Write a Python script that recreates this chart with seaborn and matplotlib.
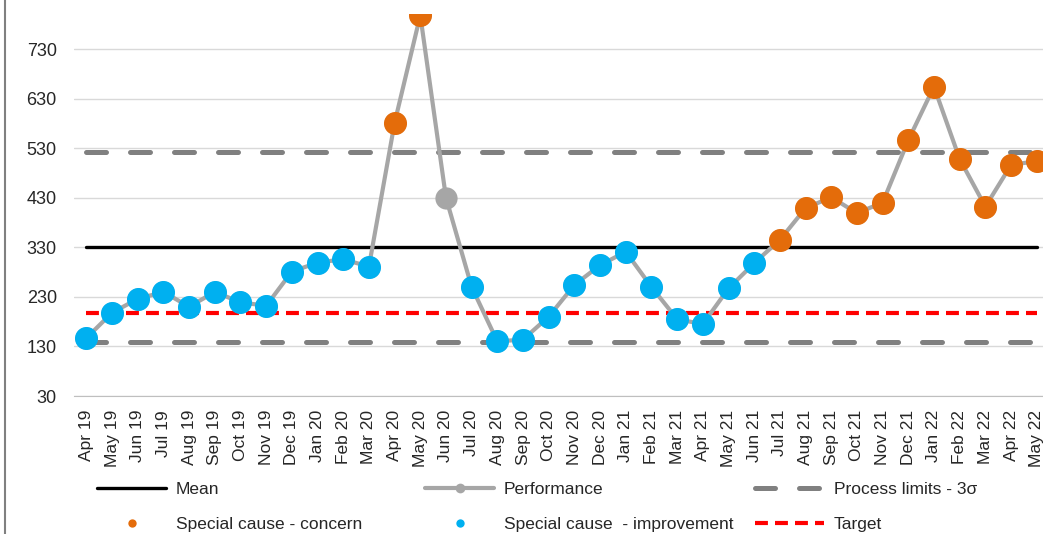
import matplotlib
matplotlib.use('Agg')
import matplotlib.pyplot as plt
from matplotlib.lines import Line2D
import numpy as np
import pandas as pd
import seaborn as sns

sns.set_style('white')
plt.rcParams['font.family'] = ['Liberation Sans', 'DejaVu Sans']
plt.rcParams['font.size'] = 12

# data
months = ['Apr 19', 'May 19', 'Jun 19', 'Jul 19', 'Aug 19', 'Sep 19', 'Oct 19', 'Nov 19',
          'Dec 19', 'Jan 20', 'Feb 20', 'Mar 20', 'Apr 20', 'May 20', 'Jun 20', 'Jul 20',
          'Aug 20', 'Sep 20', 'Oct 20', 'Nov 20', 'Dec 20', 'Jan 21', 'Feb 21', 'Mar 21',
          'Apr 21', 'May 21', 'Jun 21', 'Jul 21', 'Aug 21', 'Sep 21', 'Oct 21', 'Nov 21',
          'Dec 21', 'Jan 22', 'Feb 22', 'Mar 22', 'Apr 22', 'May 22']
performance = [147, 198, 226, 240, 210, 240, 219, 212,
               281, 299, 306, 291, 581, 798, 430, 250,
               140, 144, 190, 254, 294, 321, 250, 185,
               175, 247, 298, 345, 409, 431, 399, 420,
               546, 654, 508, 412, 496, 504]
mean_value = 331
upper_limit = 522
lower_limit = 139
target_value = 198
concern_months = ['Apr 20', 'May 20', 'Jul 21', 'Aug 21', 'Sep 21', 'Oct 21', 'Nov 21',
                  'Dec 21', 'Jan 22', 'Feb 22', 'Mar 22', 'Apr 22', 'May 22']
improvement_months = ['Apr 19', 'May 19', 'Jun 19', 'Jul 19', 'Aug 19', 'Sep 19', 'Oct 19',
                      'Nov 19', 'Dec 19', 'Jan 20', 'Feb 20', 'Mar 20', 'Jul 20', 'Aug 20',
                      'Sep 20', 'Oct 20', 'Nov 20', 'Dec 20', 'Jan 21', 'Feb 21', 'Mar 21',
                      'Apr 21', 'May 21', 'Jun 21']
y_ticks = [30, 130, 230, 330, 430, 530, 630, 730]

# colours
orange = '#E46C0A'
blue = '#00B0F0'
line_grey = '#A6A6A6'
limit_grey = '#808080'
red = '#FF0000'

df = pd.DataFrame({'month': months, 'value': performance})
df['pos'] = np.arange(len(df))
n = len(df)

fig = plt.figure(figsize=(10.43, 5.34), dpi=100)
ax = fig.add_axes([0.0705, 0.2584, 0.9358, 0.7148])

# reference lines
ax.plot(df['pos'], np.full(n, mean_value), color='black', lw=2.4, zorder=2)
ax.plot(df['pos'], np.full(n, upper_limit), color=limit_grey, lw=3.6,
        dashes=(4, 4.8), dash_capstyle='round', zorder=2)
ax.plot(df['pos'], np.full(n, lower_limit), color=limit_grey, lw=3.6,
        dashes=(4, 4.8), dash_capstyle='round', zorder=2)
ax.plot(df['pos'], np.full(n, target_value), color=red, lw=3,
        dashes=(3.1, 1.7), zorder=2)

# performance line
sns.lineplot(data=df, x='pos', y='value', ax=ax, color=line_grey, lw=3,
             marker='o', markersize=16, markeredgewidth=0, zorder=3)

# special cause points
sns.scatterplot(data=df[df['month'].isin(concern_months)], x='pos', y='value', ax=ax,
                color=orange, s=275, linewidth=0, zorder=4)
sns.scatterplot(data=df[df['month'].isin(improvement_months)], x='pos', y='value', ax=ax,
                color=blue, s=275, linewidth=0, zorder=4)

ax.set_xlim(-0.5, n - 0.5)
ax.set_ylim(30, 800)
ax.set_yticks(y_ticks)
ax.set_xticks(df['pos'])
ax.set_xticklabels(months, rotation=90, fontsize=12.5, color='#262626')
ax.tick_params(axis='y', length=0, pad=12, labelsize=13, labelcolor='#262626')
ax.tick_params(axis='x', length=0, pad=10)
ax.set_xlabel('')
ax.set_ylabel('')
ax.grid(axis='y', color='#D9D9D9', lw=1)
ax.set_axisbelow(True)
for side in ['top', 'right', 'left']:
    ax.spines[side].set_visible(False)
ax.spines['bottom'].set_color('#BFBFBF')

# legend, three columns placed separately
h_mean = Line2D([], [], color='black', lw=2.4)
h_perf = Line2D([], [], color=line_grey, lw=3, marker='o', markersize=7, markeredgewidth=0)
h_limit = Line2D([], [], color=limit_grey, lw=3.6, dashes=(4, 4.8), dash_capstyle='round')
h_concern = Line2D([], [], color=orange, lw=0, marker='o', markersize=6, markeredgewidth=0)
h_improve = Line2D([], [], color=blue, lw=0, marker='o', markersize=6, markeredgewidth=0)
h_target = Line2D([], [], color=red, lw=3, dashes=(3.1, 1.7))

legend_cols = [
    ([h_mean, h_concern], ['Mean', 'Special cause - concern'], 97),
    ([h_perf, h_improve], ['Performance', 'Special cause  - improvement'], 425),
    ([h_limit, h_target], ['Process limits - 3σ', 'Target'], 755),
]
for handles, labels, x_px in legend_cols:
    fig.legend(handles, labels, loc='upper left', bbox_to_anchor=(x_px / 1043, 1 - 482 / 534),
               frameon=False, borderpad=0, borderaxespad=0, handlelength=4,
               handletextpad=0.55, labelspacing=1.15, fontsize=12.5, labelcolor='#262626')

# grey border on the left edge
fig.add_artist(Line2D([0.005, 0.005], [0, 1], transform=fig.transFigure,
                      color='#808080', lw=1.5))

fig.savefig('out.png', dpi=100)
